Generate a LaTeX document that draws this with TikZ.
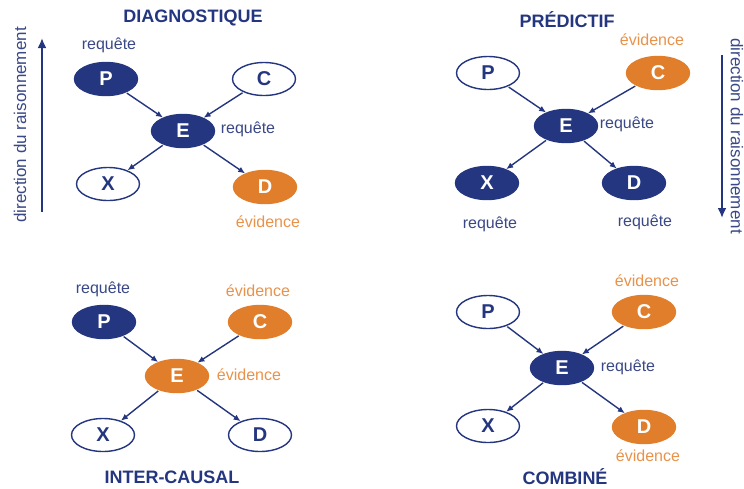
\documentclass[tikz,border=0pt]{standalone}
\usepackage{fontspec}
\setmainfont{Liberation Sans}
\usetikzlibrary{arrows.meta,shapes.geometric}
\definecolor{navy}{HTML}{24367F}
\definecolor{navytxt}{HTML}{3A4886}
\definecolor{orng}{HTML}{E07E2B}
\definecolor{orngtxt}{HTML}{E8924A}

\begin{document}
\begin{tikzpicture}[x=1pt, y=-1pt, >={Latex[length=7pt, width=6pt]},
	every node/.style={font=\fontsize{16}{18}\selectfont},
	vn/.style={ellipse, draw=navy, line width=1.4pt, minimum width=63pt, minimum height=33pt, inner sep=0pt, font=\fontsize{20}{20}\selectfont\bfseries},
	qn/.style={vn, fill=navy, text=white},
	en/.style={vn, draw=orng, fill=orng, text=white},
	fn/.style={vn, fill=white, text=navy},
	lq/.style={text=navytxt},
	le/.style={text=orngtxt},
	ttl/.style={text=navy, font=\fontsize{18}{20}\selectfont\bfseries},
	ed/.style={->, navy, line width=1.4pt, shorten <=1pt}]
	\useasboundingbox (0,0) rectangle (744,488);
	% diagnostique
	\node[ttl] (t1) at (193,18) {DIAGNOSTIQUE};
	\node[qn] (P1) at (106,79) {P};
	\node[fn] (C1) at (264,79) {C};
	\node[qn] (E1) at (183,131) {E};
	\node[fn] (X1) at (108,184) {X};
	\node[en] (D1) at (265,187) {D};
	\node[lq] (l1a) at (109,45) {requête};
	\node[lq] (l1b) at (248,129) {requête};
	\node[le] (l1c) at (268,222) {évidence};
	% predictif
	\node[ttl] (t2) at (567,20) {PRÉDICTIF};
	\node[fn] (P2) at (488,73) {P};
	\node[en] (C2) at (658,73) {C};
	\node[qn] (E2) at (566,126) {E};
	\node[qn] (X2) at (487,183) {X};
	\node[qn] (D2) at (634,183) {D};
	\node[le] (l2a) at (652,40) {évidence};
	\node[lq] (l2b) at (627,124) {requête};
	\node[lq] (l2c) at (490,224) {requête};
	\node[lq] (l2d) at (645,222) {requête};
	% inter-causal
	\node[ttl] (t3) at (172,477) {INTER-CAUSAL};
	\node[qn] (P3) at (104,322) {P};
	\node[en] (C3) at (260,322) {C};
	\node[en] (E3) at (177,376) {E};
	\node[fn] (X3) at (103,435) {X};
	\node[fn] (D3) at (260,435) {D};
	\node[lq] (l3a) at (103,289) {requête};
	\node[le] (l3b) at (258,291) {évidence};
	\node[le] (l3c) at (249,375) {évidence};
	% combine
	\node[ttl] (t4) at (565,477) {COMBINÉ};
	\node[fn] (P4) at (488,312) {P};
	\node[en] (C4) at (644,312) {C};
	\node[qn] (E4) at (562,368) {E};
	\node[fn] (X4) at (488,426) {X};
	\node[en] (D4) at (644,427) {D};
	\node[le] (l4a) at (647,281) {évidence};
	\node[lq] (l4b) at (628,367) {requête};
	\node[le] (l4c) at (648,456) {évidence};
	\foreach \p in {1,2,3,4} {
		\draw[ed] (P\p) -- (E\p);
		\draw[ed] (C\p) -- (E\p);
		\draw[ed] (E\p) -- (X\p);
		\draw[ed] (E\p) -- (D\p);
	}
	% direction du raisonnement
	\node[lq, rotate=90, font=\fontsize{17}{18}\selectfont] (dl) at (20,125) {direction du raisonnement};
	\node[lq, rotate=-90, font=\fontsize{17}{18}\selectfont] (dr) at (737,136) {direction du raisonnement};
	\coordinate (dl0) at (42,212);
	\coordinate (dl1) at (42,38);
	\coordinate (dr0) at (722,55);
	\coordinate (dr1) at (722,218);
	\draw[->, navy, line width=2.4pt, >={Latex[length=10pt, width=9pt]}] (dl0) -- (dl1);
	\draw[->, navy, line width=2.4pt, >={Latex[length=10pt, width=9pt]}] (dr0) -- (dr1);
\end{tikzpicture}
\end{document}
